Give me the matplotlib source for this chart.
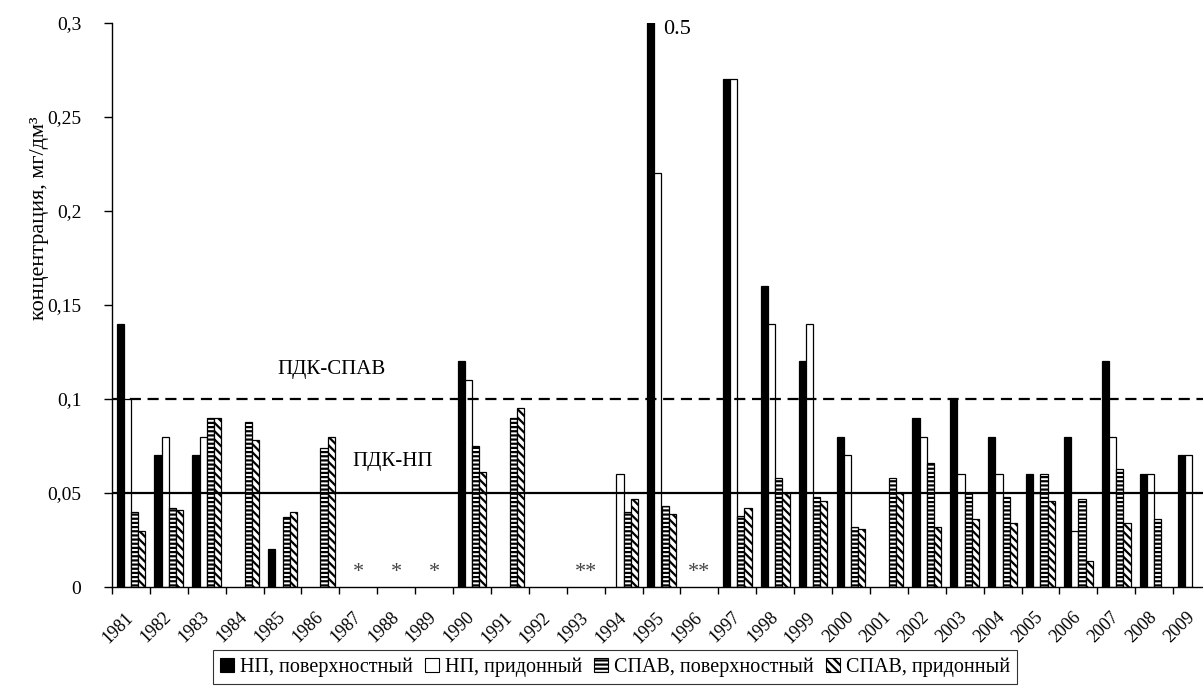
import matplotlib.pyplot as plt
from matplotlib.patches import Patch
from matplotlib.transforms import ScaledTranslation
import numpy as np

plt.rcParams['font.family'] = ['Liberation Serif', 'DejaVu Serif']
plt.rcParams['hatch.linewidth'] = 1.6

nan = np.nan
years = [str(y) for y in range(1981, 2010)]

# концентрации, мг/дм3
np_surface = [0.14, 0.07, 0.07, nan, 0.02, nan, nan, nan, nan, 0.12, nan, nan, nan, nan, 0.5,
              nan, 0.27, 0.16, 0.12, 0.08, nan, 0.09, 0.10, 0.08, 0.06, 0.08, 0.12, 0.06, 0.07]
np_bottom = [0.10, 0.08, 0.08, nan, nan, nan, nan, nan, nan, 0.11, nan, nan, nan, 0.06, 0.22,
             nan, 0.27, 0.14, 0.14, 0.07, nan, 0.08, 0.06, 0.06, 0.05, 0.03, 0.08, 0.06, 0.07]
spav_surface = [0.040, 0.042, 0.090, 0.088, 0.037, 0.074, nan, nan, nan, 0.075, 0.090, nan, nan, 0.040, 0.043,
                nan, 0.038, 0.058, 0.048, 0.032, 0.058, 0.066, 0.050, 0.048, 0.060, 0.047, 0.063, 0.036, nan]
spav_bottom = [0.030, 0.041, 0.090, 0.078, 0.040, 0.080, nan, nan, nan, 0.061, 0.095, nan, nan, 0.047, 0.039,
               nan, 0.042, 0.050, 0.046, 0.031, 0.050, 0.032, 0.036, 0.034, 0.046, 0.014, 0.034, nan, nan]

series_labels = ['НП, поверхностный', 'НП, придонный', 'СПАВ, поверхностный', 'СПАВ, придонный']

# годы без наблюдений
no_data = {'1987': '*', '1988': '*', '1989': '*', '1993': '**', '1996': '**'}

pdk_np = 0.05
pdk_spav = 0.1

y_ticks = [0, 0.05, 0.1, 0.15, 0.2, 0.25, 0.3]
y_tick_labels = ['0', '0,05', '0,1', '0,15', '0,2', '0,25', '0,3']

fig = plt.figure(figsize=(12.03, 6.88), dpi=100)
ax = fig.add_axes([112 / 1203, 101 / 688, 1099 / 1203, 564 / 688])

x = np.arange(len(years))
w = 0.19
styles = [dict(color='black', hatch=None),
          dict(color='white', hatch=None),
          dict(color='white', hatch='----'),
          dict(color='white', hatch='\\\\\\\\')]
data = [np_surface, np_bottom, spav_surface, spav_bottom]
handles = []
for k, (vals, st) in enumerate(zip(data, styles)):
    ax.bar(x + (k - 1.5) * w, vals, width=w, color=st['color'], edgecolor='black',
           hatch=st['hatch'], linewidth=0.9, zorder=2)
    handles.append(Patch(facecolor=st['color'], edgecolor='black', hatch=st['hatch'], linewidth=0.8))

ax.axhline(pdk_np, color='black', lw=1.6, zorder=3)
ax.axhline(pdk_spav, color='black', lw=1.6, ls=(0, (5, 3)), zorder=3)
ax.text(5.3, 0.1155, 'ПДК-СПАВ', fontsize=15, ha='center', va='center')
ax.text(6.9, 0.0665, 'ПДК-НП', fontsize=15, ha='center', va='center')

# столбец 1995 г. выходит за шкалу, подписываем значение
i95 = years.index('1995')
ax.text(i95 + 0.04, 0.2965, str(np_surface[i95]), fontsize=16, ha='left', va='center')

for yr, mark in no_data.items():
    ax.text(years.index(yr), 0.0075, mark, fontsize=16, ha='center', va='center', color='#444444')

ax.set_xlim(-0.5, len(years) - 0.5)
ax.set_ylim(0, 0.3)
ax.set_yticks(y_ticks)
ax.set_yticklabels(y_tick_labels, fontsize=14)
ax.set_xticks(x)
ax.set_xticklabels(years, fontsize=13, rotation=45, ha='right', va='center', rotation_mode='anchor')
shift = ScaledTranslation(-6 / 100, -5 / 100, fig.dpi_scale_trans)
for lab in ax.get_xticklabels():
    lab.set_transform(lab.get_transform() + shift)
ax.set_xticks(np.arange(-0.5, len(years)), minor=True)
ax.tick_params(axis='x', which='major', length=0, pad=20)
ax.tick_params(axis='x', which='minor', length=5, width=1, direction='out')
ax.tick_params(axis='y', length=6, width=1, direction='out', pad=16)
for s in ['top', 'right']:
    ax.spines[s].set_visible(False)
for s in ['left', 'bottom']:
    ax.spines[s].set_linewidth(1)

ax.set_ylabel('концентрация, мг/дм³', fontsize=16)
ax.yaxis.set_label_coords(-0.057, 0.654)

leg = fig.legend(handles, series_labels, loc='center', bbox_to_anchor=(615 / 1203, 21 / 688),
                 ncol=4, fontsize=14.5, frameon=True, fancybox=False, edgecolor='black',
                 handlelength=0.7, handleheight=0.7, handletextpad=0.3, columnspacing=0.6,
                 borderpad=0.35)
leg.get_frame().set_linewidth(0.8)

fig.savefig('out.png', dpi=100)
